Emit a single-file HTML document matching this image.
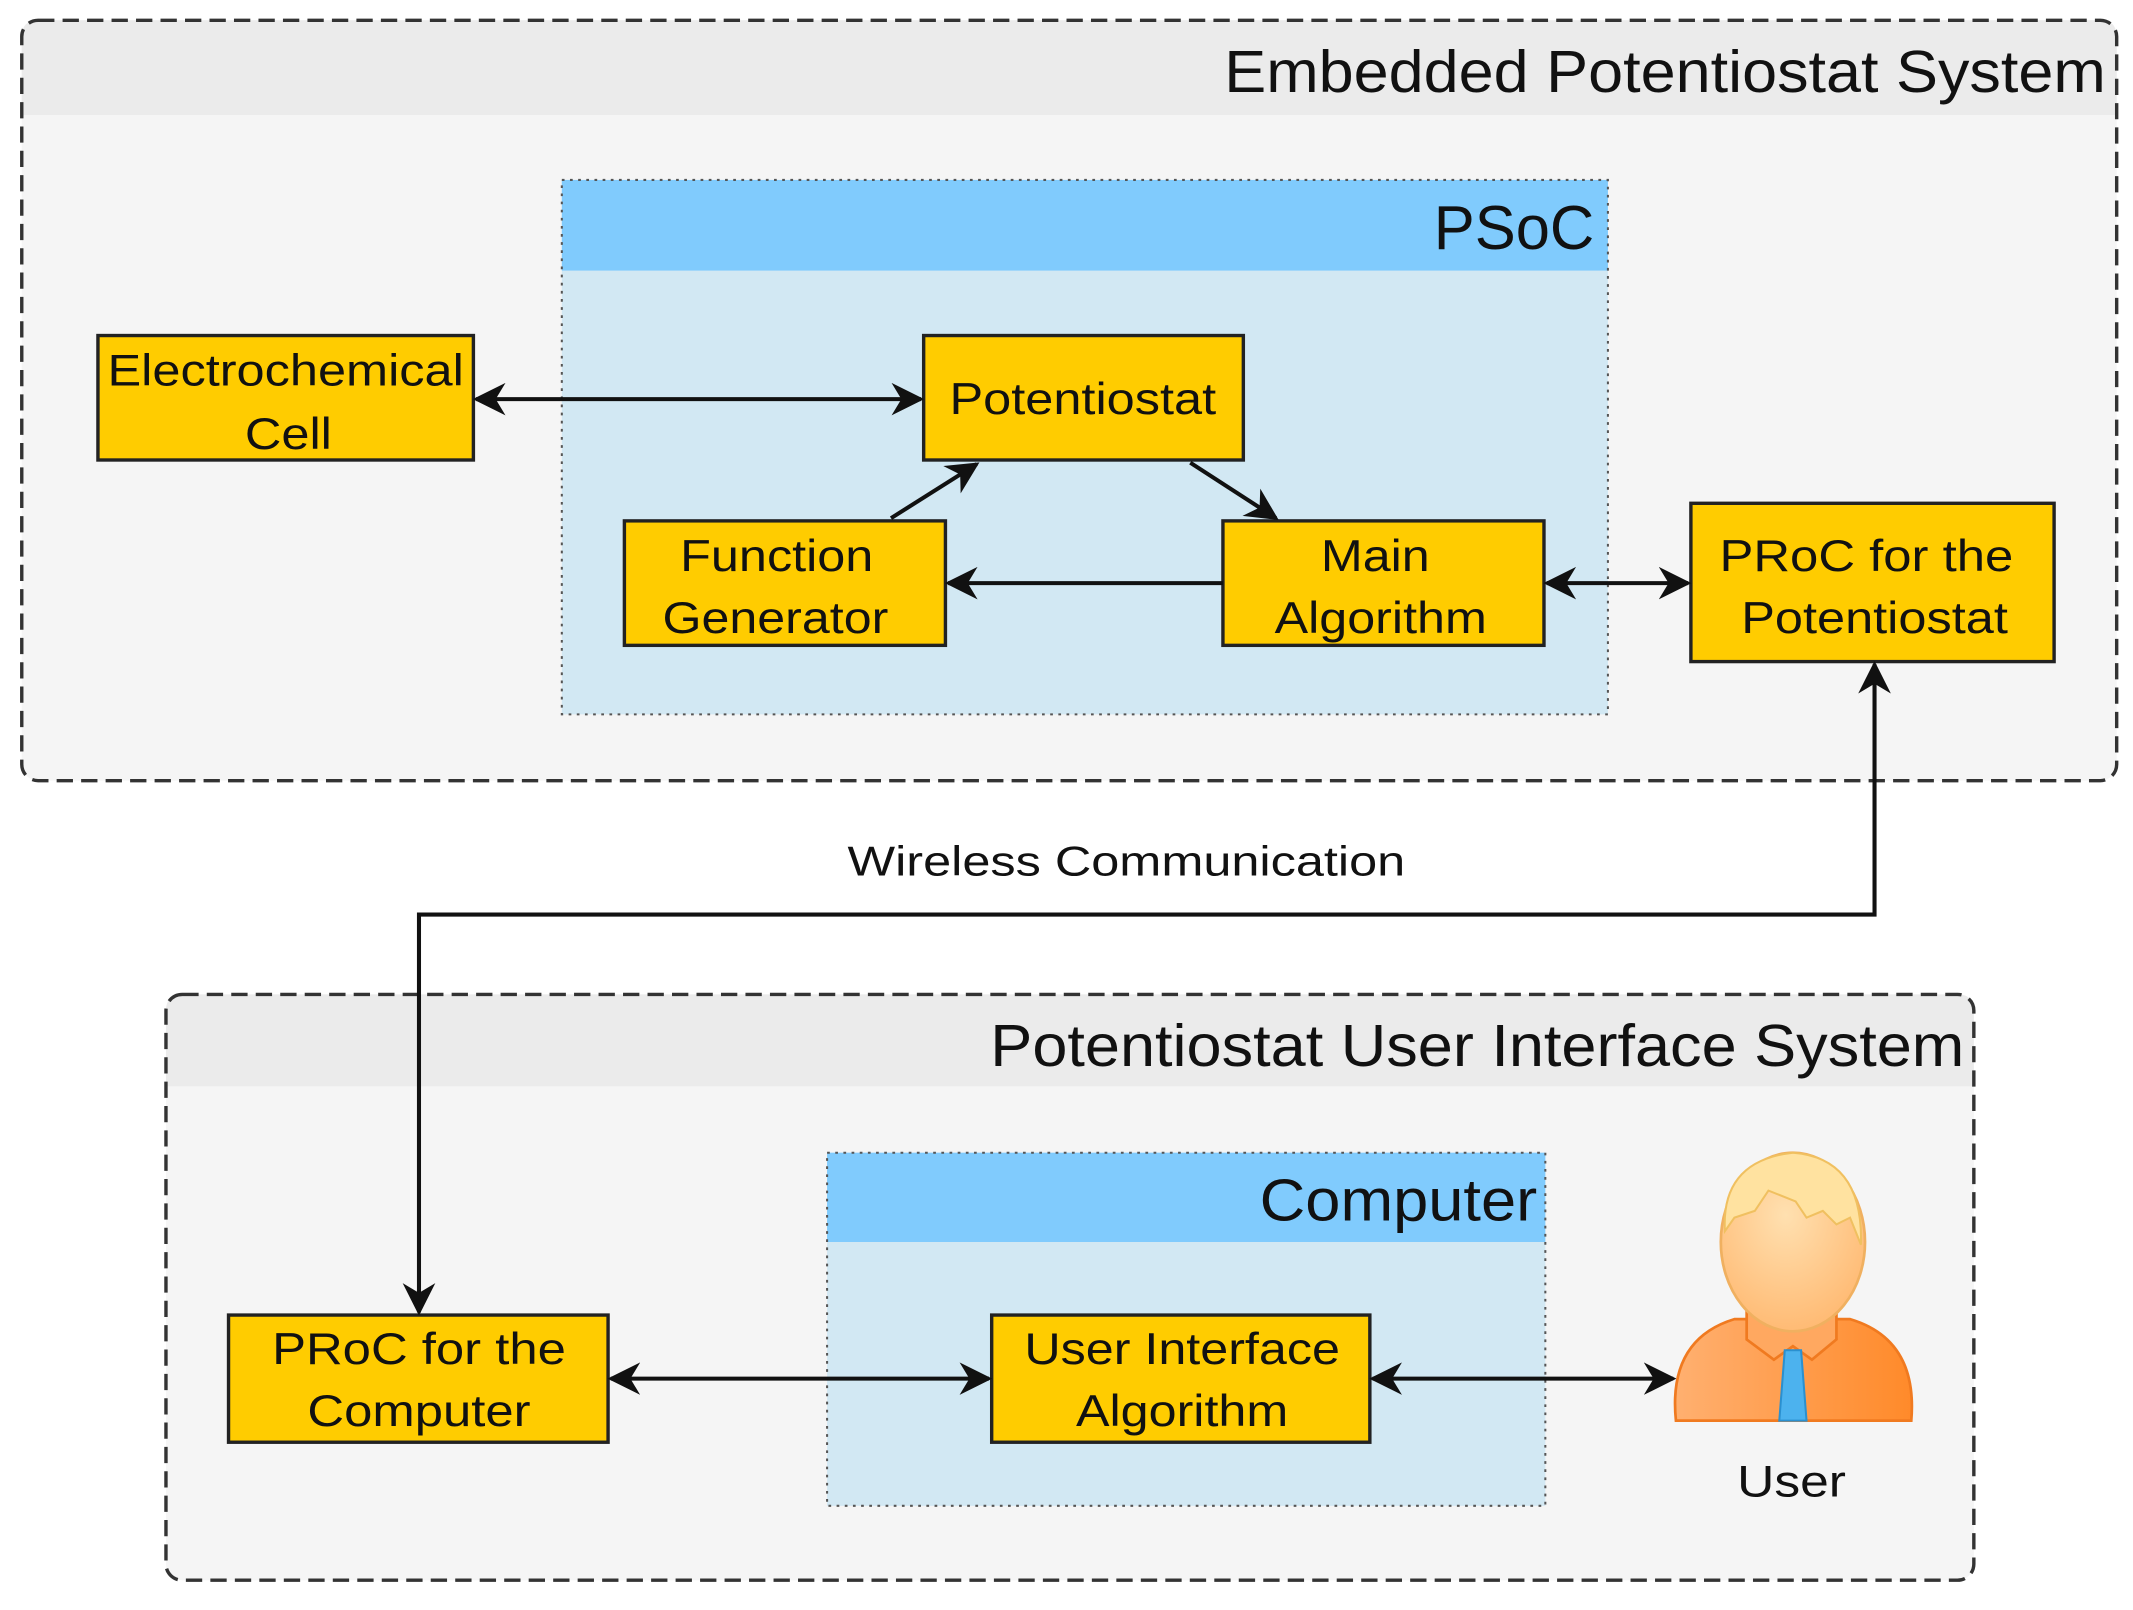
<!DOCTYPE html>
<html><head><meta charset="utf-8"><style>
html,body{margin:0;padding:0;background:#fff;}
svg{display:block;}
text{font-family:"Liberation Sans",sans-serif;fill:#111;}
</style></head><body>
<svg width="2133" height="1610" viewBox="0 0 1568 1190" preserveAspectRatio="none" xmlns="http://www.w3.org/2000/svg">
<defs>
<marker id="a" viewBox="0 0 20 20" refX="18" refY="10" markerWidth="24" markerHeight="24" markerUnits="userSpaceOnUse" orient="auto-start-reverse">
<path d="M0,0 L20,10 L0,20 L6,10 Z" fill="#111"/>
</marker>
<linearGradient id="sh" x1="0" x2="1"><stop offset="0" stop-color="#ffb070"/><stop offset="1" stop-color="#ff8a2a"/></linearGradient>
<radialGradient id="hd" cx="0.45" cy="0.35" r="0.7"><stop offset="0" stop-color="#ffe0b0"/><stop offset="1" stop-color="#ffb870"/></radialGradient>
</defs>
<!-- Outer box 1 -->
<rect x="16" y="15" width="1540" height="562" rx="12" fill="#f5f5f5"/>
<path d="M16,85 V27 Q16,15 28,15 H1544 Q1556,15 1556,27 V85 Z" fill="#ebebeb"/>
<rect x="16" y="15" width="1540" height="562" rx="12" fill="none" stroke="#333" stroke-width="2.5" stroke-dasharray="12,6"/>
<text x="1548" y="68" font-size="44" text-anchor="end" textLength="648" lengthAdjust="spacingAndGlyphs">Embedded Potentiostat System</text>
<!-- PSoC -->
<rect x="413" y="133" width="769" height="395" fill="#d2e8f3"/>
<rect x="413" y="133" width="769" height="67" fill="#80cbfd"/>
<rect x="413" y="133" width="769" height="395" fill="none" stroke="#555" stroke-width="1.5" stroke-dasharray="2,4"/>
<text x="1172" y="184" font-size="46" text-anchor="end" textLength="118" lengthAdjust="spacingAndGlyphs">PSoC</text>
<!-- boxes -->
<g fill="#ffcc00" stroke="#222" stroke-width="2.5">
<rect x="72" y="248" width="276" height="92"/>
<rect x="679" y="248" width="235" height="92"/>
<rect x="459" y="385" width="236" height="92"/>
<rect x="899" y="385" width="236" height="92"/>
<rect x="1243" y="372" width="267" height="117"/>
</g>
<g font-size="33" text-anchor="middle">
<text x="210" y="285" textLength="262" lengthAdjust="spacingAndGlyphs">Electrochemical</text>
<text x="212" y="332" textLength="64" lengthAdjust="spacingAndGlyphs">Cell</text>
<text x="796" y="306" textLength="196" lengthAdjust="spacingAndGlyphs">Potentiostat</text>
<text x="571" y="422" textLength="142" lengthAdjust="spacingAndGlyphs">Function</text>
<text x="570" y="468" textLength="166" lengthAdjust="spacingAndGlyphs">Generator</text>
<text x="1011" y="422" textLength="80" lengthAdjust="spacingAndGlyphs">Main</text>
<text x="1015" y="468" textLength="156" lengthAdjust="spacingAndGlyphs">Algorithm</text>
<text x="1372" y="422" textLength="216" lengthAdjust="spacingAndGlyphs">PRoC for the</text>
<text x="1378" y="468" textLength="196" lengthAdjust="spacingAndGlyphs">Potentiostat</text>
</g>
<!-- arrows -->
<g stroke="#111" stroke-width="3" fill="none">
<line x1="350" y1="295" x2="677" y2="295" marker-start="url(#a)" marker-end="url(#a)"/>
<line x1="655" y1="383" x2="718" y2="343" marker-end="url(#a)"/>
<line x1="875" y1="342" x2="938" y2="383" marker-end="url(#a)"/>
<line x1="899" y1="431" x2="697" y2="431" marker-end="url(#a)"/>
<line x1="1137" y1="431" x2="1241" y2="431" marker-start="url(#a)" marker-end="url(#a)"/>
</g>
<text x="828" y="647" font-size="31" text-anchor="middle" textLength="410" lengthAdjust="spacingAndGlyphs">Wireless Communication</text>
<!-- Outer box 2 -->
<rect x="122" y="735" width="1329" height="433" rx="12" fill="#f5f5f5"/>
<path d="M122,803 V747 Q122,735 134,735 H1439 Q1451,735 1451,747 V803 Z" fill="#ebebeb"/>
<rect x="122" y="735" width="1329" height="433" rx="12" fill="none" stroke="#333" stroke-width="2.5" stroke-dasharray="12,6"/>
<text x="1444" y="788" font-size="44" text-anchor="end" textLength="716" lengthAdjust="spacingAndGlyphs">Potentiostat User Interface System</text>
<!-- Computer -->
<rect x="608" y="852" width="528" height="261" fill="#d2e8f3"/>
<rect x="608" y="852" width="528" height="66" fill="#80cbfd"/>
<rect x="608" y="852" width="528" height="261" fill="none" stroke="#555" stroke-width="1.5" stroke-dasharray="2,4"/>
<text x="1130" y="902" font-size="44" text-anchor="end" textLength="204" lengthAdjust="spacingAndGlyphs">Computer</text>
<g fill="#ffcc00" stroke="#222" stroke-width="2.5">
<rect x="168" y="972" width="279" height="94"/>
<rect x="729" y="972" width="278" height="94"/>
</g>
<g font-size="33" text-anchor="middle">
<text x="308" y="1008" textLength="216" lengthAdjust="spacingAndGlyphs">PRoC for the</text>
<text x="308" y="1054" textLength="164" lengthAdjust="spacingAndGlyphs">Computer</text>
<text x="869" y="1008" textLength="232" lengthAdjust="spacingAndGlyphs">User Interface</text>
<text x="869" y="1054" textLength="156" lengthAdjust="spacingAndGlyphs">Algorithm</text>
</g>
<g stroke="#111" stroke-width="3" fill="none">
<line x1="449" y1="1019" x2="727" y2="1019" marker-start="url(#a)" marker-end="url(#a)"/>
<line x1="1009" y1="1019" x2="1230" y2="1019" marker-start="url(#a)" marker-end="url(#a)"/>
<polyline points="1378,491 1378,676 308,676 308,970" marker-start="url(#a)" marker-end="url(#a)"/>
</g>
<!-- user icon -->
<g>
<path d="M1232,1050 Q1226,990 1275,975 L1360,975 Q1410,990 1405,1050 Z" fill="url(#sh)" stroke="#f07a20" stroke-width="2"/>
<path d="M1284,965 L1284,990 L1304,1005 L1318,995 L1332,1005 L1350,990 L1350,965 Z" fill="#ffa860" stroke="#f07a20" stroke-width="2"/>
<path d="M1312,998 L1324,998 L1328,1050 L1308,1050 Z" fill="#4cb2ee" stroke="#2a90d0" stroke-width="1.5"/>
<ellipse cx="1318" cy="918" rx="53" ry="66" fill="url(#hd)" stroke="#f0b060" stroke-width="2"/>
<path d="M1268,910 Q1265,858 1318,852 Q1370,856 1368,920 L1360,900 L1350,905 L1340,895 L1328,900 L1320,888 L1300,880 L1290,895 L1275,900 Z" fill="#ffe2a0" stroke="#f0c060" stroke-width="1.5"/>
</g>
<text x="1317" y="1106" font-size="33" text-anchor="middle" textLength="80" lengthAdjust="spacingAndGlyphs">User</text>
</svg>
</body></html>
